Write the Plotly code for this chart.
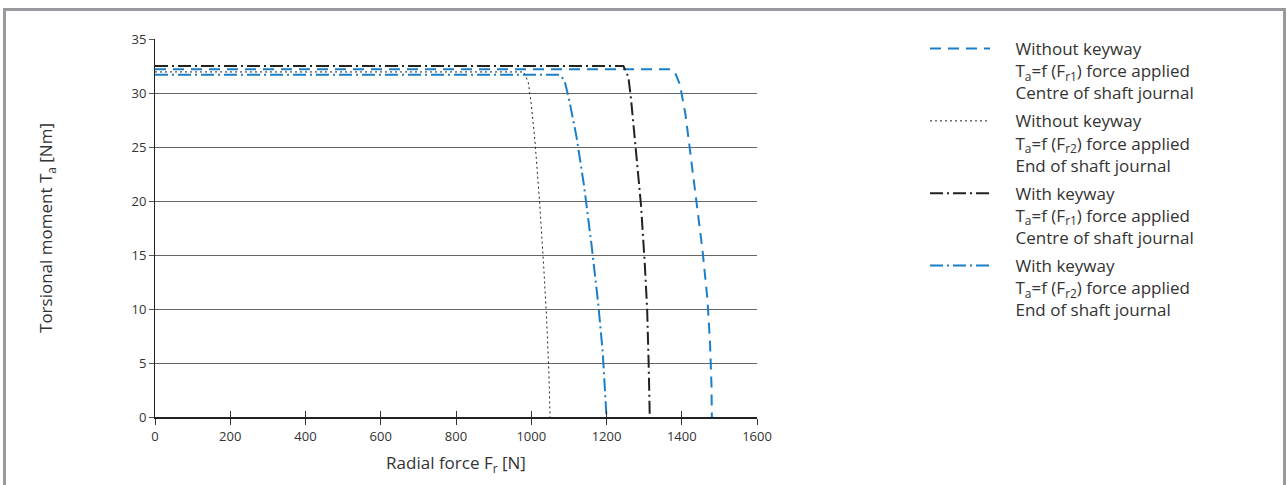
import plotly.graph_objects as go

# ---- data ----
x_nokey_fr1 = [0, 1370, 1382, 1395, 1410, 1425, 1440, 1455, 1468, 1475, 1479, 1480]
y_nokey_fr1 = [32.2, 32.2, 31.9, 30.8, 28.0, 24.0, 20.0, 15.5, 11.0, 7.0, 3.0, 0.0]

x_nokey_fr2 = [0, 980, 992, 1000, 1010, 1022, 1033, 1041, 1047, 1050]
y_nokey_fr2 = [31.95, 31.95, 31.0, 29.0, 25.5, 20.0, 14.0, 9.0, 4.0, 0.0]

x_key_fr1 = [0, 1245, 1258, 1265, 1280, 1292, 1302, 1308, 1312, 1315]
y_key_fr1 = [32.5, 32.5, 31.5, 29.5, 24.0, 19.5, 14.0, 10.0, 5.0, 0.0]

x_key_fr2 = [0, 1075, 1088, 1100, 1120, 1140, 1160, 1178, 1190, 1196, 1200]
y_key_fr2 = [31.7, 31.7, 31.2, 29.5, 26.0, 21.5, 16.0, 10.5, 6.0, 3.0, 0.0]

legend_lines = [
    ["Without keyway", "T<sub>a</sub>=f (F<sub>r1</sub>) force applied", "Centre of shaft journal"],
    ["Without keyway", "T<sub>a</sub>=f (F<sub>r2</sub>) force applied", "End of shaft journal"],
    ["With keyway", "T<sub>a</sub>=f (F<sub>r1</sub>) force applied", "Centre of shaft journal"],
    ["With keyway", "T<sub>a</sub>=f (F<sub>r2</sub>) force applied", "End of shaft journal"],
]
PAD = "\u00a0\u00a0\u00a0\u00a0\u2009"
names = ["<br>".join(PAD + s for s in lines) for lines in legend_lines]

x_ticks = [0, 200, 400, 600, 800, 1000, 1200, 1400, 1600]
y_ticks = [0, 5, 10, 15, 20, 25, 30, 35]

BLUE = "#1a7fc8"
FONT = "Open Sans"
TXT = "#333333"

fig = go.Figure()
fig.add_trace(go.Scatter(x=x_nokey_fr1, y=y_nokey_fr1, mode="lines", name=names[0], legendgroup="a",
                         line=dict(color=BLUE, width=2, dash="11px,7px")))
fig.add_trace(go.Scatter(x=x_nokey_fr2, y=y_nokey_fr2, mode="lines", name=names[1], legendgroup="b",
                         line=dict(color="#222222", width=1, dash="2px,3px")))
fig.add_trace(go.Scatter(x=x_key_fr1, y=y_key_fr1, mode="lines", name=names[2], legendgroup="c",
                         line=dict(color="#222222", width=2, dash="13px,4px,2px,4px")))
fig.add_trace(go.Scatter(x=x_key_fr2, y=y_key_fr2, mode="lines", name=names[3], legendgroup="d",
                         line=dict(color=BLUE, width=2, dash="13px,4px,2px,4px")))
# helper trace for the inner half of the x ticks
fig.add_trace(go.Scatter(x=[x_ticks[0], x_ticks[-1]], y=[None, None], xaxis="x2",
                         mode="lines", showlegend=False, hoverinfo="skip"))

L, R, T, B = 155, 757, 39, 417
W, H = 1287, 485
pw, ph = R - L, B - T

def px(xp):
    return (xp - L) / pw

def py(yp):
    return (B - yp) / ph

fig.update_layout(
    width=W, height=H,
    margin=dict(l=L, r=W - R, t=T, b=H - B, pad=0),
    paper_bgcolor="white", plot_bgcolor="white",
    font=dict(family=FONT, color=TXT, size=13),
    showlegend=True,
    legend=dict(x=px(925), y=py(31), xanchor="left", yanchor="top",
                font=dict(family=FONT, size=17, color=TXT),
                itemwidth=60, valign="top", maxheight=460, tracegroupgap=3,
                bgcolor="rgba(0,0,0,0)"),
    xaxis=dict(range=[0, 1600], tickvals=x_ticks, ticks="outside", ticklen=6,
               tickcolor=TXT, showgrid=False, zeroline=False,
               showline=True, linecolor="#222222", linewidth=2,
               title=dict(text="Radial force F<sub>r</sub> [N]", font=dict(size=17), standoff=14),
               tickfont=dict(size=13)),
    xaxis2=dict(range=[0, 1600], tickvals=x_ticks, ticks="inside", ticklen=6,
                tickcolor=TXT, overlaying="x", anchor="y", side="bottom",
                showticklabels=False, showgrid=False, zeroline=False, showline=False),
    yaxis=dict(range=[0, 35], tickvals=y_ticks, ticks="outside", ticklen=5,
               tickcolor="#555555", showgrid=True, gridcolor="#666666", gridwidth=1,
               zeroline=False, showline=True, linecolor="#222222", linewidth=1,
               title=dict(text="Torsional moment T<sub>a</sub> [Nm]", font=dict(size=17), standoff=74),
               tickfont=dict(size=13)),
    shapes=[
        dict(type="rect", xref="paper", yref="paper",
             x0=px(4.5), x1=px(1284.5), y0=py(560), y1=py(9.5),
             line=dict(color="#9a9a9e", width=3), fillcolor="rgba(0,0,0,0)", layer="above"),
    ],
)

fig.write_html("out.html", config={"displayModeBar": False},
               post_script="document.body.style.margin='0px';")
